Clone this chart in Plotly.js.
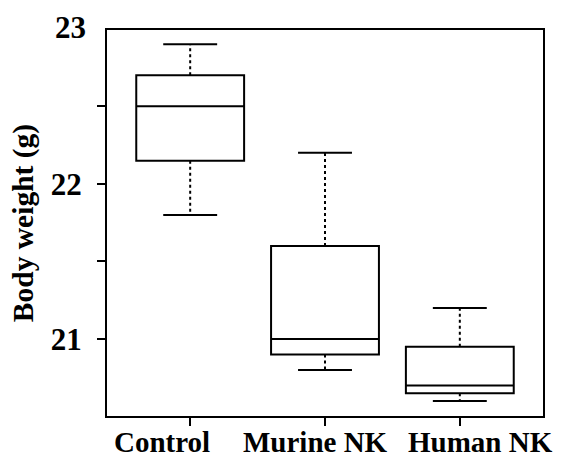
<!DOCTYPE html>
<html>
<head>
<meta charset="utf-8">
<script src="https://cdn.plot.ly/plotly-3.0.1.min.js"></script>
<style>html,body{margin:0;padding:0;background:#fff;}#chart{width:563px;height:457px;}</style>
</head>
<body>
<div id="chart"></div>
<script>
// Data (body weight, g)
const groups = ["Control", "Murine NK", "Human NK"];
const lowerWhisker = [21.8, 20.8, 20.6];
const q1 = [22.15, 20.9, 20.65];
const median = [22.5, 21.0, 20.7];
const q3 = [22.7, 21.6, 20.95];
const upperWhisker = [22.9, 22.2, 21.2];
const yTickVals = [21, 21.5, 22, 22.5];
const yTickText = ["21", "", "22", ""];
const yTopValue = 23;
const yTopLabel = "23";

// styling: horizontal pixel offsets of the category labels (as placed in the reference)
const labelShift = [-28, -10, 21];

const positions = groups.map((g, i) => i + 1);
const capHalf = 0.2;
const yRange = [20.504, 22.992];
const FONT = "Liberation Serif, Times New Roman, serif";

const boxTrace = {
  type: "box",
  x: positions,
  q1: q1,
  median: median,
  q3: q3,
  lowerfence: q1,
  upperfence: q3,
  width: 0.8,
  whiskerwidth: 0,
  fillcolor: "rgba(0,0,0,0)",
  line: {color: "#000", width: 2},
  hoverinfo: "skip",
  showlegend: false
};

const wx = [], wy = [], cx = [], cy = [];
positions.forEach((p, i) => {
  wx.push(p, p, null, p, p, null);
  wy.push(q3[i], upperWhisker[i], null, q1[i], lowerWhisker[i], null);
  cx.push(p - capHalf, p + capHalf, null, p - capHalf, p + capHalf, null);
  cy.push(upperWhisker[i], upperWhisker[i], null, lowerWhisker[i], lowerWhisker[i], null);
});

const whiskers = {
  type: "scatter", mode: "lines", x: wx, y: wy,
  line: {color: "#000", width: 2, dash: "3px,3px"},
  hoverinfo: "skip", showlegend: false
};
const caps = {
  type: "scatter", mode: "lines", x: cx, y: cy,
  line: {color: "#000", width: 2},
  hoverinfo: "skip", showlegend: false
};

const annotations = groups.map((g, i) => ({
  text: g, xref: "x", yref: "paper", x: positions[i], y: 0,
  xanchor: "center", yanchor: "top", xshift: labelShift[i], yshift: -8,
  showarrow: false,
  font: {family: FONT, size: 29, weight: "bold", color: "#000"}
}));
annotations.push({
  text: yTopLabel, xref: "paper", yref: "paper", x: 0,
  y: (yTopValue - yRange[0]) / (yRange[1] - yRange[0]),
  xanchor: "right", yanchor: "middle", xshift: -19, yshift: 1, showarrow: false,
  font: {family: FONT, size: 31, weight: "bold", color: "#000"}
});

const layout = {
  width: 563, height: 457,
  margin: {l: 107, r: 20, t: 30, b: 41},
  paper_bgcolor: "#fff", plot_bgcolor: "#fff",
  font: {family: FONT, color: "#000"},
  showlegend: false,
  xaxis: {
    type: "linear",
    range: [0.383, 3.617],
    tickvals: positions,
    ticktext: groups.map(() => ""),
    showgrid: false, zeroline: false,
    showline: true, mirror: true, linecolor: "#000", linewidth: 2,
    ticks: "outside", ticklen: 8, tickwidth: 2, tickcolor: "#000"
  },
  yaxis: {
    range: yRange,
    tickvals: yTickVals,
    ticktext: yTickText,
    showgrid: false, zeroline: false,
    showline: true, mirror: true, linecolor: "#000", linewidth: 2,
    ticks: "outside", ticklen: 8, tickwidth: 2, tickcolor: "#000",
    tickfont: {family: FONT, size: 31, weight: "bold", color: "#000"},
    ticklabelstandoff: 9,
    title: {text: "Body weight (g)", font: {family: FONT, size: 29.5, weight: "bold", color: "#000"}, standoff: 8}
  },
  annotations: annotations
};

Plotly.newPlot("chart", [boxTrace, whiskers, caps], layout, {displayModeBar: false, staticPlot: true});
</script>
</body>
</html>
